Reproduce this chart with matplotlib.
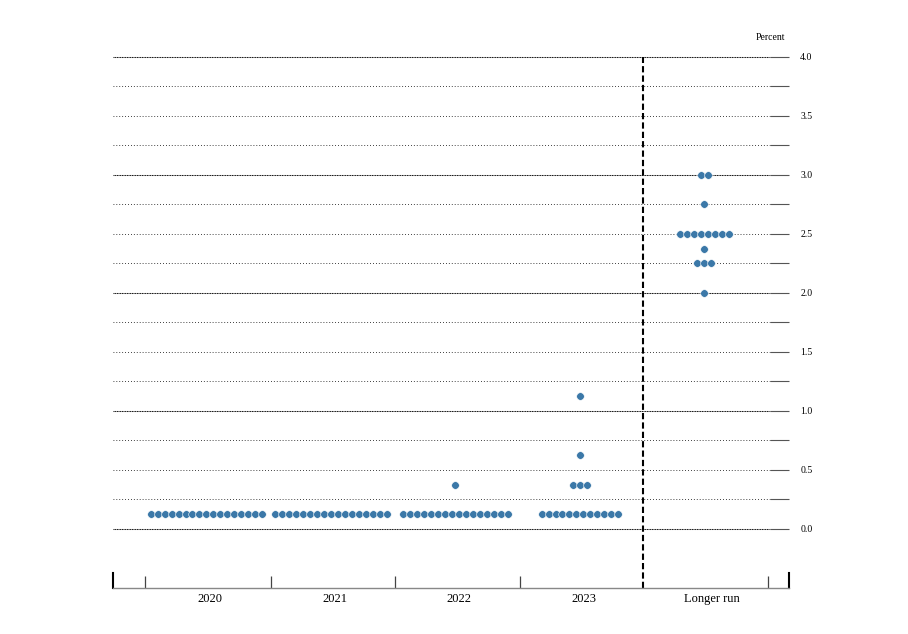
import numpy as np
import matplotlib
matplotlib.use("Agg")
import matplotlib.pyplot as plt

plt.rcParams['font.family'] = ['Liberation Serif', 'DejaVu Serif']

# data: (rate, number of participants) per column
columns = ["2020", "2021", "2022", "2023", "Longer run"]
rates_2020 = [0.125]
counts_2020 = [17]
rates_2021 = [0.125]
counts_2021 = [17]
rates_2022 = [0.125, 0.375]
counts_2022 = [16, 1]
rates_2023 = [0.125, 0.375, 0.625, 1.125]
counts_2023 = [12, 3, 1, 1]
rates_lr = [2.0, 2.25, 2.375, 2.5, 2.75, 3.0]
counts_lr = [1, 3, 1, 8, 1, 2]

all_rates = [rates_2020, rates_2021, rates_2022, rates_2023, rates_lr]
all_counts = [counts_2020, counts_2021, counts_2022, counts_2023, counts_lr]

dot_color = '#3b78a8'
step = 0.056
shift = -0.03

fig = plt.figure(figsize=(9.08, 6.34), dpi=100)
ax = fig.add_axes([0.1245, 0.0726, 0.7445, 0.8375])
ax.set_xlim(-0.78, 4.65)
ax.set_ylim(-0.5, 4.0)

# grid lines
for y in np.arange(0, 4.01, 0.25):
    if abs(y - round(y)) < 1e-9:
        ax.plot([-0.78, 4.5], [y, y], color='black', lw=0.75, ls=(0, (1, 0.6)), zorder=1, clip_on=False)
    else:
        ax.plot([-0.78, 4.5], [y, y], color='black', lw=0.6, ls=(0, (1, 2.5)), zorder=1, clip_on=False)

# dots
for i, (rates, counts) in enumerate(zip(all_rates, all_counts)):
    for r, n in zip(rates, counts):
        xs = i + shift + (np.arange(n) - (n - 1) / 2) * step
        ax.scatter(xs, [r] * n, s=30, color=dot_color, edgecolor='white', linewidth=0.4,
                   zorder=3, clip_on=False)

# separator before longer run
ax.plot([3.48, 3.48], [-0.5, 4.0], color='black', lw=1.5, ls=(0, (3, 1.5)), zorder=2, clip_on=False)

# y axis on the right
ax.yaxis.tick_right()
ax.set_yticks(np.arange(0, 4.01, 0.5))
ax.set_yticks(np.arange(0, 4.01, 0.25), minor=True)
ax.set_yticklabels([f"{v:.1f}" for v in np.arange(0, 4.01, 0.5)])
ax.tick_params(axis='y', which='both', direction='in', length=14, width=0.8, color='#555555',
               labelsize=7, pad=8)

# x axis
ax.set_xticks([-0.52, 0.485, 1.485, 2.485, 4.48])
ax.set_xticklabels([])
ax.set_xticks([0, 1, 2, 3, 4.03], minor=True)
ax.set_xticklabels(columns, minor=True)
ax.tick_params(axis='x', which='major', direction='in', length=9, width=0.9, color='#444444')
ax.tick_params(axis='x', which='minor', length=0, labelsize=9, pad=3.5)

for s in ['top', 'right', 'left']:
    ax.spines[s].set_visible(False)
ax.spines['bottom'].set_color('#888888')
ax.spines['bottom'].set_linewidth(1.0)

# end caps on the bottom axis
for xe in [0.0, 1.0]:
    ax.plot([xe, xe], [0, 0.028], transform=ax.transAxes, color='black', lw=1.5, clip_on=False)

ax.text(0.972, 1.036, "Percent", transform=ax.transAxes, fontsize=7, ha='center', va='center')

fig.savefig("out.png", dpi=100)
